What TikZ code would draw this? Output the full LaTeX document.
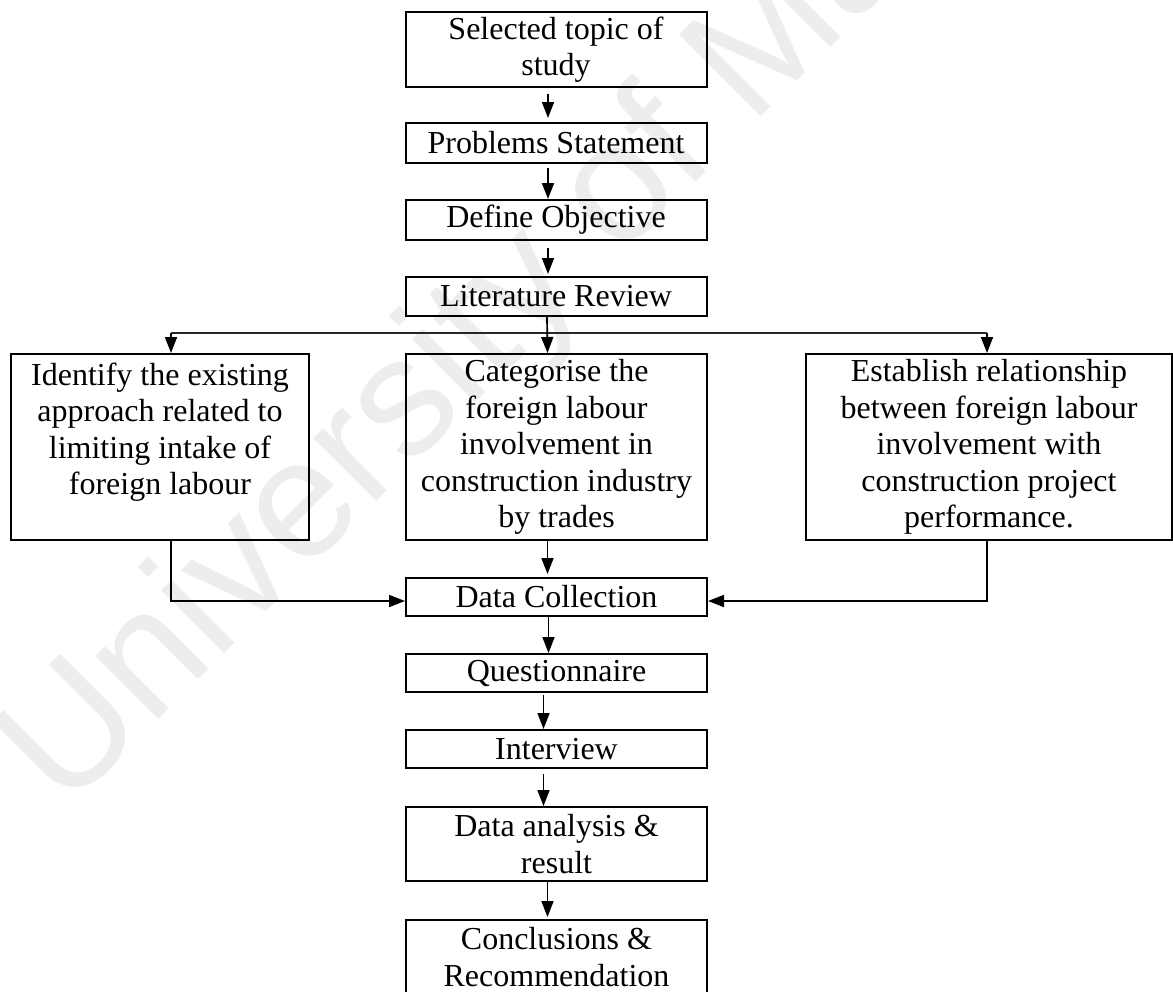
\documentclass[tikz,border=0pt]{standalone}
\usepackage{fontspec}
\setmainfont{Liberation Serif}
\newfontfamily\wmfont{Liberation Sans}
\usetikzlibrary{arrows.meta}

\tikzset{
  box/.style={draw, line width=2pt, inner sep=0pt, align=center,
    font=\fontsize{32}{36.5}\selectfont, minimum width=301pt},
  arr/.style={line width=1.7pt, -{Triangle[length=16pt,width=12pt]}},
  feed/.style={line width=1.3pt, draw=black!85}
}

\begin{document}
\begin{tikzpicture}[x=1pt,y=-1pt]
  \clip (0,0) rectangle (1173,991);
  \fill[white] (0,0) rectangle (1173,991);

  % watermark
  \node[anchor=base west, rotate=45, text=black!7, inner sep=0pt,
        font=\wmfont\fontsize{168}{168}\selectfont] (wm) at (65,813) {University of Malaya};

  % main column
  \node[box, minimum height=75pt] (topic) at (556,49.5) {Selected topic of\\study};
  \node[box, minimum height=40pt] (prob) at (556,143) {Problems Statement};
  \node[box, minimum height=40pt] (obj) at (556,220) {Define Objective};
  \node[box, minimum height=39pt] (lit) at (556,296.5) {Literature Review};

  % three study aims
  \node[box, minimum width=298pt, minimum height=186pt] (aimL) at (160,447)
    {Identify the existing\\approach related to\\limiting intake of\\foreign labour\\\mbox{}};
  \node[box, minimum height=186pt] (aimC) at (556.5,447)
    {Categorise the\\foreign labour\\involvement in\\construction industry\\by trades};
  \node[box, minimum width=366pt, minimum height=186pt] (aimR) at (989,447)
    {Establish relationship\\between foreign labour\\involvement with\\construction project\\performance.};

  % lower column
  \node[box, minimum height=38pt] (data) at (556.5,597) {Data Collection};
  \node[box, minimum height=38pt] (quest) at (556.5,673) {Questionnaire};
  \node[box, minimum height=38pt] (inter) at (556.5,749) {Interview};
  \node[box, minimum height=74pt] (anal) at (556.5,844) {Data analysis \&\\result};
  \node[box, minimum height=74pt] (concl) at (556.5,957) {Conclusions \&\\Recommendation};

  % branching bus under the literature review
  \coordinate (busL) at (171,333);
  \coordinate (busR) at (987,333);
  \draw[feed] (busL) -- (busR);
  \draw[arr] (busL) -- (busL |- aimL.north);
  \draw[arr] (busR) -- (busR |- aimR.north);

  % vertical flow arrows
  \draw[arr, shorten <=6pt, shorten >=4pt] ([xshift=-8pt]topic.south) -- ([xshift=-8pt]prob.north);
  \draw[arr, shorten <=4pt] ([xshift=-8pt]prob.south) -- ([xshift=-8pt]obj.north);
  \draw[arr, shorten <=7pt, shorten >=2pt] ([xshift=-8pt]obj.south) -- ([xshift=-8pt]lit.north);
  \draw[arr] ([xshift=-9pt]lit.south) -- ([xshift=-9pt]aimC.north);
  \draw[arr, shorten >=3pt] ([xshift=-9pt]aimC.south) -- ([xshift=-9pt]data.north);
  \draw[arr] ([xshift=-8pt]data.south) -- ([xshift=-8pt]quest.north);
  \draw[arr, shorten <=2pt] ([xshift=-13pt]quest.south) -- ([xshift=-13pt]inter.north);
  \draw[arr, shorten <=5pt] ([xshift=-13pt]inter.south) -- ([xshift=-13pt]anal.north);
  \draw[arr, shorten >=2pt] ([xshift=-9pt]anal.south) -- ([xshift=-9pt]concl.north);

  % feeds into data collection
  \draw[arr] (busL |- aimL.south) |- ([yshift=-4pt]data.west);
  \draw[arr] (busR |- aimR.south) |- ([yshift=-4pt]data.east);
\end{tikzpicture}
\end{document}
